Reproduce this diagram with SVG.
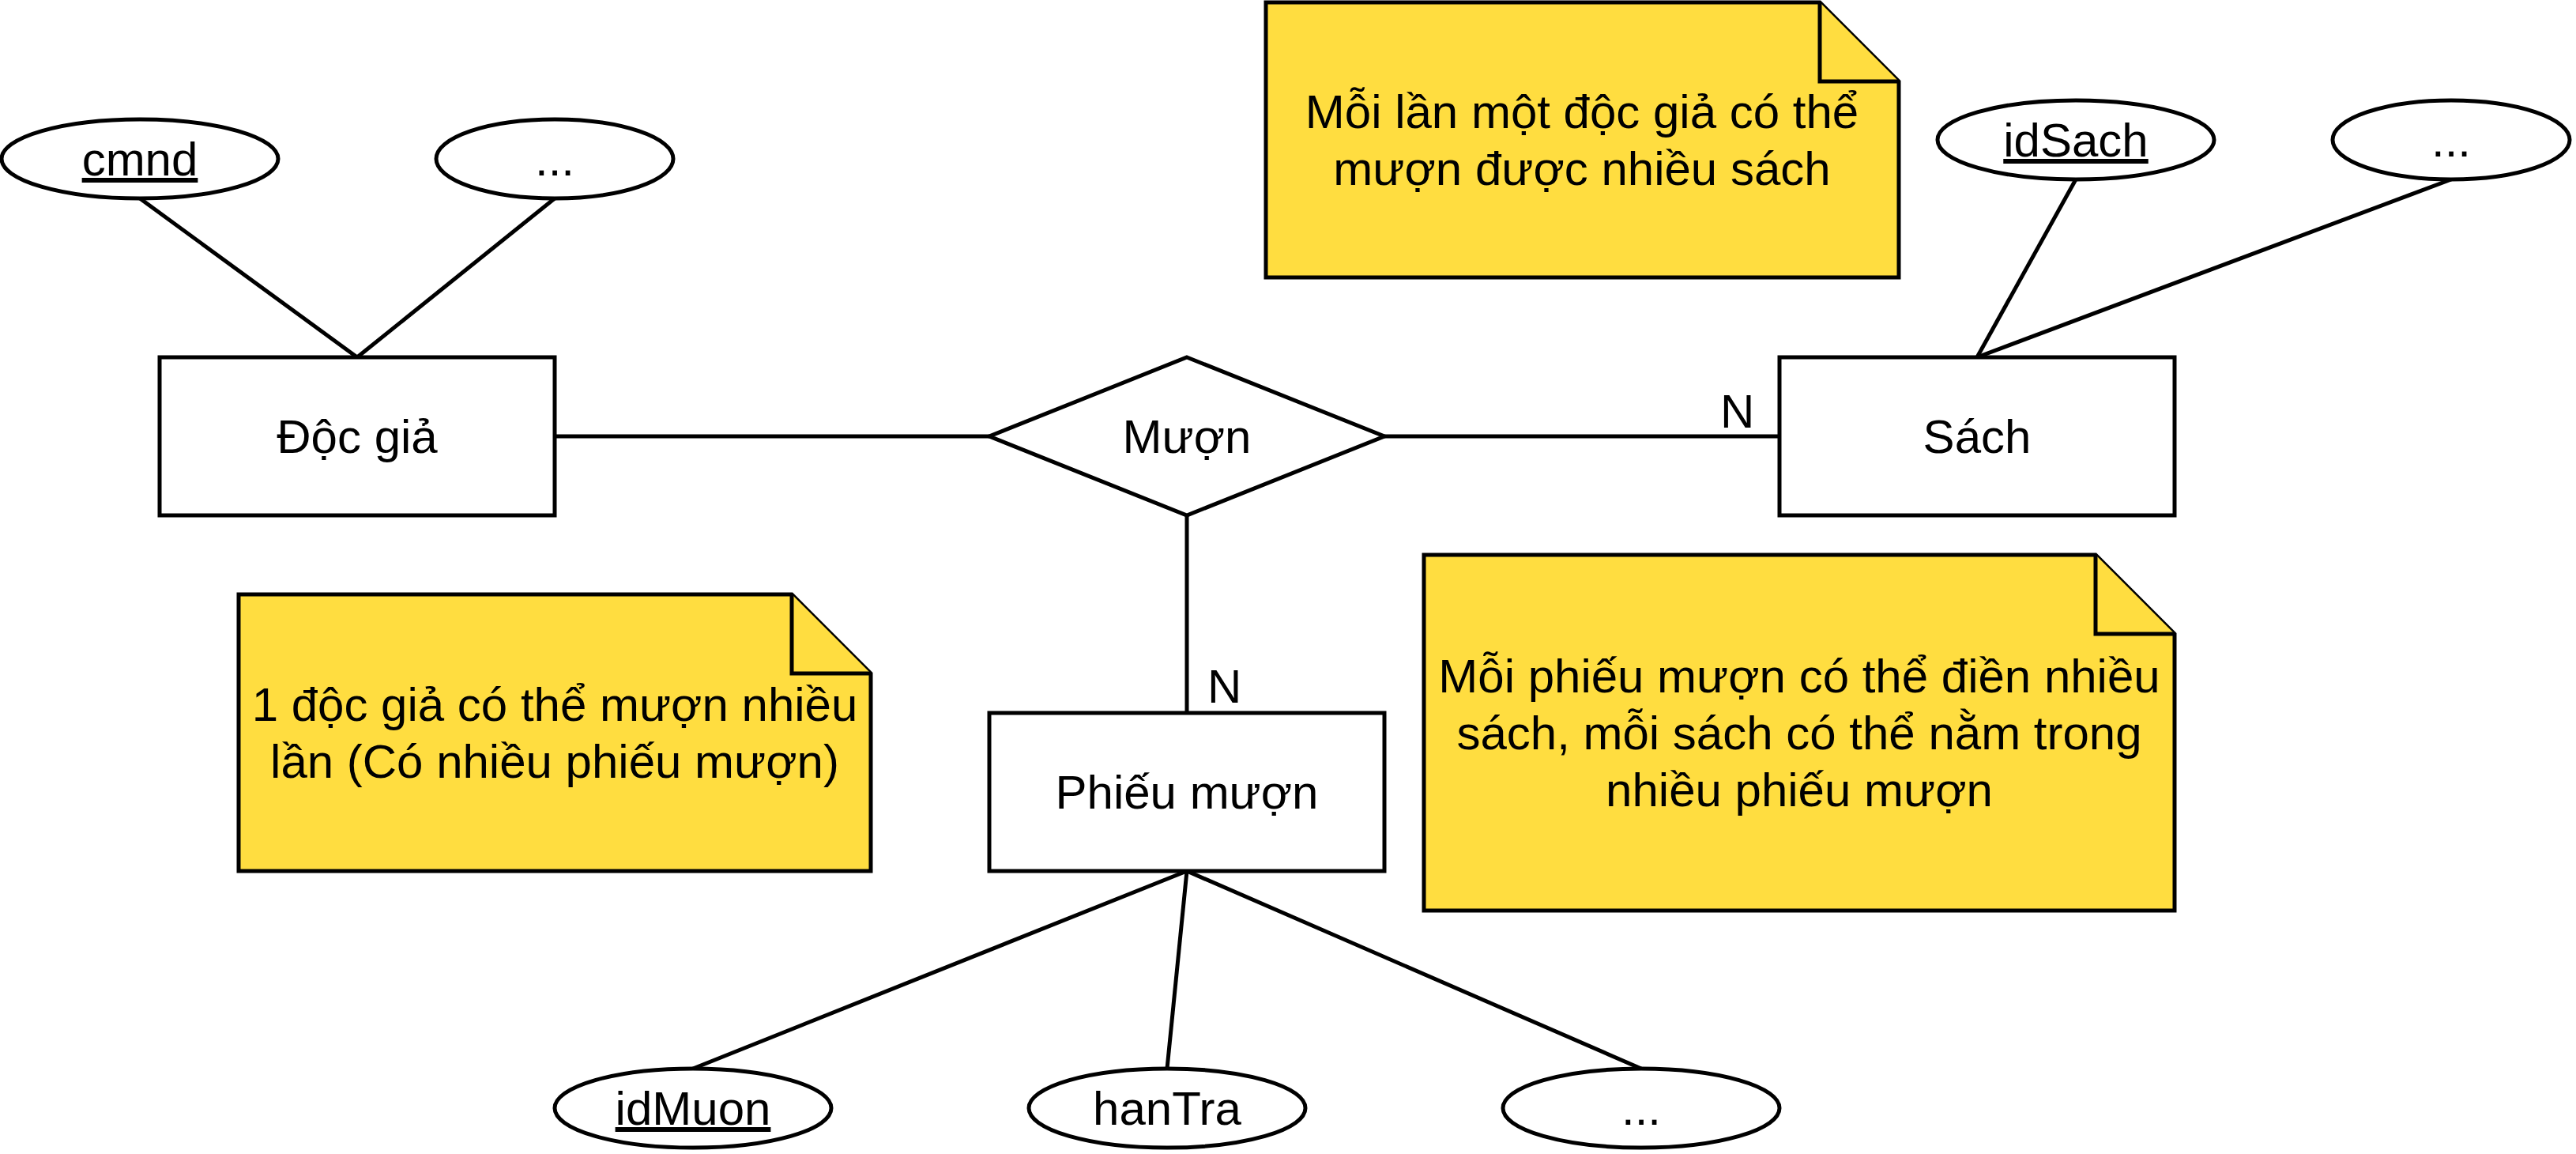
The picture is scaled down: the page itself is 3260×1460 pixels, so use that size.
<svg xmlns="http://www.w3.org/2000/svg" width="3260" height="1460" viewBox="0 0 3260 1460">
<style>
  .shape { fill: #FFFFFF; stroke: #000000; stroke-width: 5; }
  .note { fill: #FFDD40; stroke: #000000; stroke-width: 5; stroke-linejoin: miter; }
  .conn { stroke: #000000; stroke-width: 5; fill: none; }
  text { font-family: "Liberation Sans", Arial, sans-serif; font-size: 60px; fill: #000000; }
  .c { text-anchor: middle; }
  .u { text-decoration: underline; }
</style>
<rect x="0" y="0" width="3260" height="1460" fill="#FFFFFF"/>
<g id="connectors">
  <line class="conn" x1="177" y1="251" x2="452" y2="452"/>
  <line class="conn" x1="702" y1="251" x2="452" y2="452"/>
  <line class="conn" x1="2627" y1="227" x2="2502" y2="452"/>
  <line class="conn" x1="3102" y1="227" x2="2502" y2="452"/>
  <line class="conn" x1="702" y1="552" x2="1252" y2="552"/>
  <line class="conn" x1="1752" y1="552" x2="2252" y2="552"/>
  <line class="conn" x1="1502" y1="652" x2="1502" y2="902"/>
  <line class="conn" x1="1502" y1="1102" x2="877" y2="1352"/>
  <line class="conn" x1="1502" y1="1102" x2="1477" y2="1352"/>
  <line class="conn" x1="1502" y1="1102" x2="2077" y2="1352"/>
  <text x="2177" y="541">N</text>
  <text x="1528" y="889">N</text>
</g>
<g id="attr-cmnd">
  <ellipse class="shape" cx="177" cy="201" rx="175" ry="50"/>
  <text class="c u" x="177" y="222">cmnd</text>
</g>
<g id="attr-docgia-more">
  <ellipse class="shape" cx="702" cy="201" rx="150" ry="50"/>
  <text class="c" x="702" y="222">...</text>
</g>
<g id="attr-idSach">
  <ellipse class="shape" cx="2627" cy="177" rx="175" ry="50"/>
  <text class="c u" x="2627" y="198">idSach</text>
</g>
<g id="attr-sach-more">
  <ellipse class="shape" cx="3102" cy="177" rx="150" ry="50"/>
  <text class="c" x="3102" y="198">...</text>
</g>
<g id="entity-docgia">
  <rect class="shape" x="202" y="452" width="500" height="200"/>
  <text class="c" x="452" y="573">Độc giả</text>
</g>
<g id="relation-muon">
  <polygon class="shape" points="1502,452 1752,552 1502,652 1252,552"/>
  <text class="c" x="1502" y="573">Mượn</text>
</g>
<g id="entity-sach">
  <rect class="shape" x="2252" y="452" width="500" height="200"/>
  <text class="c" x="2502" y="573">Sách</text>
</g>
<g id="entity-phieumuon">
  <rect class="shape" x="1252" y="902" width="500" height="200"/>
  <text class="c" x="1502" y="1023">Phiếu mượn</text>
</g>
<g id="attr-idMuon">
  <ellipse class="shape" cx="877" cy="1402" rx="175" ry="50"/>
  <text class="c u" x="877" y="1423">idMuon</text>
</g>
<g id="attr-hanTra">
  <ellipse class="shape" cx="1477" cy="1402" rx="175" ry="50"/>
  <text class="c" x="1477" y="1423">hanTra</text>
</g>
<g id="attr-phieu-more">
  <ellipse class="shape" cx="2077" cy="1402" rx="175" ry="50"/>
  <text class="c" x="2077" y="1423">...</text>
</g>
<g id="note-top">
  <path class="note" d="M1602,3 H2303 L2403,103 V351 H1602 Z"/>
  <path class="note" d="M2303,3 V103 H2403"/>
  <text class="c" x="2002" y="162">Mỗi lần một độc giả có thể</text>
  <text class="c" x="2002" y="234">mượn được nhiều sách</text>
</g>
<g id="note-left">
  <path class="note" d="M302,752 H1002 L1102,852 V1102 H302 Z"/>
  <path class="note" d="M1002,752 V852 H1102"/>
  <text class="c" x="702" y="912">1 độc giả có thể mượn nhiều</text>
  <text class="c" x="702" y="984">lần (Có nhiều phiếu mượn)</text>
</g>
<g id="note-right">
  <path class="note" d="M1802,702 H2652 L2752,802 V1152 H1802 Z"/>
  <path class="note" d="M2652,702 V802 H2752"/>
  <text class="c" x="2277" y="876">Mỗi phiếu mượn có thể điền nhiều</text>
  <text class="c" x="2277" y="948">sách, mỗi sách có thể nằm trong</text>
  <text class="c" x="2277" y="1020">nhiều phiếu mượn</text>
</g>
</svg>
